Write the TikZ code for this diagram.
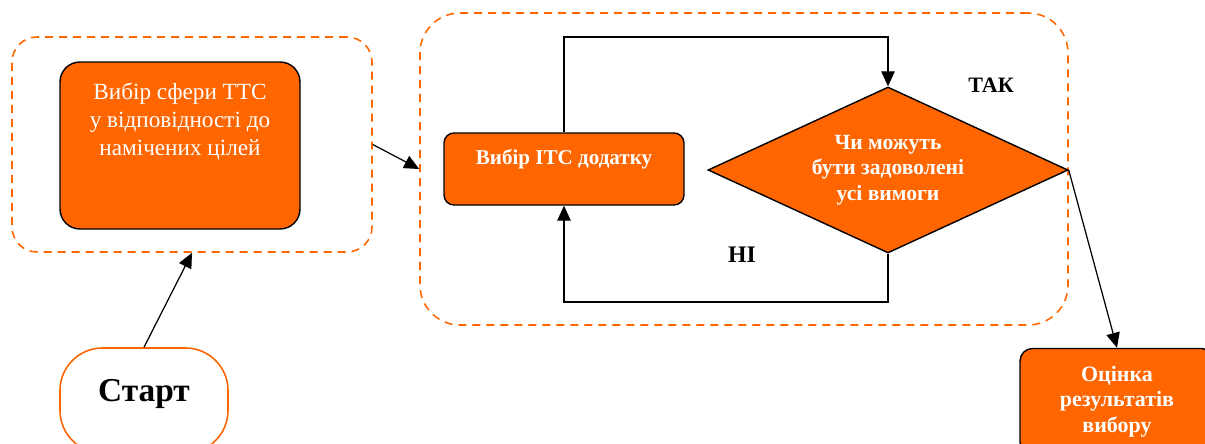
\documentclass[tikz,border=0pt]{standalone}
\usepackage{fontspec}
\setmainfont{Liberation Serif}
\usepackage{tikz}
\usetikzlibrary{arrows.meta,shapes}
\definecolor{tcorange}{HTML}{FF6600}

\begin{document}
\begin{tikzpicture}
\tikzstyle{group}=[draw=tcorange,line width=0.9pt,dash pattern=on 0.16cm off 0.12cm,inner sep=0]
\tikzstyle{stepbox}=[draw,fill=tcorange,line width=0.8pt,text=white,inner sep=0]
\tikzstyle{flow}=[-{Triangle[length=0.3cm,width=0.27cm]},line width=0.7pt]
\tikzstyle{answer}=[font=\fontsize{12.5}{15}\selectfont\bfseries]
\useasboundingbox (0,0) rectangle (24.1,-8.86);
\clip (0,0) rectangle (24.1,-8.86);
\begin{scope}
    \node [group,rounded corners=0.5cm,minimum width=7.2cm,minimum height=4.3cm] (leftgrp) at (3.84,-2.89) {};
    \node [stepbox,rounded corners=0.4cm,minimum width=4.8cm,minimum height=3.34cm,
        label={[text=white,align=center,yshift=0.48cm,font=\fontsize{13.2}{15.8}\selectfont]center:Вибір сфери ТТС\\у відповідності до\\намічених цілей}] (sphere) at (3.6,-2.91) {};
\end{scope}
\begin{scope}
    \node [group,rounded corners=0.8cm,minimum width=12.96cm,minimum height=6.24cm] (rightgrp) at (14.88,-3.38) {};
    \node [stepbox,rounded corners=0.2cm,minimum width=4.8cm,minimum height=1.44cm,
        label={[text=white,yshift=0.2cm,font=\fontsize{12}{14}\selectfont\bfseries]center:Вибір ІТС додатку}] (app) at (11.28,-3.38) {};
    \node [stepbox,diamond,aspect=2.17,minimum width=7.2cm,minimum height=3.32cm,align=center,
        font=\fontsize{12.3}{14.6}\selectfont\bfseries] (check) at (17.76,-3.4) {Чи можуть\\бути задоволені\\усі вимоги};
    \coordinate (looptop) at (11.28,-0.74);
    \coordinate (loopbot) at (17.76,-6.04);
    \draw [flow] (app.north) -- (looptop) -| (check.north);
    \draw [flow] (check.south) -- (loopbot) -| (app.south);
    \node [answer] (yes) at (19.82,-1.7) {ТАК};
    \node [answer,font=\fontsize{13.5}{16}\selectfont\bfseries] (no) at (14.84,-5.1) {НІ};
\end{scope}
\node [draw=tcorange,line width=0.9pt,fill=white,rounded corners=0.85cm,minimum width=3.36cm,minimum height=2.1cm,
    text depth=0.42cm,font=\fontsize{19}{23}\selectfont\bfseries] (start) at (2.88,-8.01) {Старт};
\node [stepbox,rounded corners=0.25cm,minimum width=3.88cm,minimum height=2.12cm,align=center,
    font=\fontsize{12.5}{14.4}\selectfont\bfseries] (result) at (22.34,-8.03) {Оцінка\\результатів\\вибору};
\draw [flow] (start.north) -- (leftgrp.south);
\draw [flow] (leftgrp.east) -- (rightgrp.west);
\draw [flow] (check.east) -- (result.north);
\end{tikzpicture}
\end{document}
